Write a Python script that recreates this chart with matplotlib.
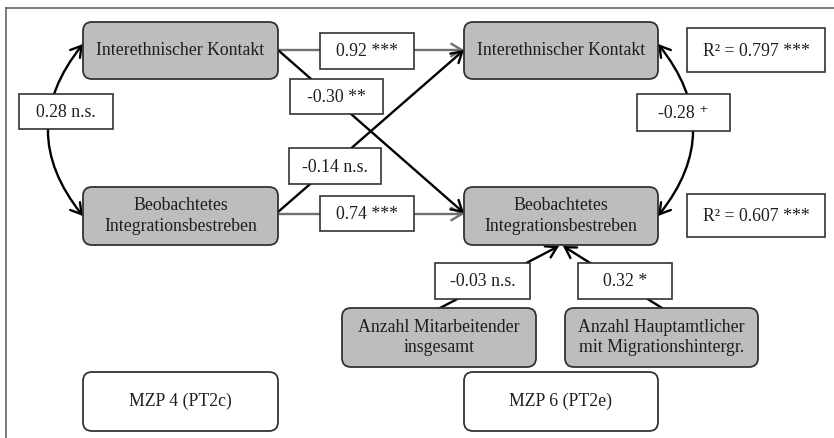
import matplotlib
matplotlib.use("Agg")
import matplotlib.pyplot as plt
from matplotlib.patches import FancyBboxPatch, Rectangle, FancyArrowPatch

plt.rcParams['font.family'] = ['Liberation Serif', 'DejaVu Serif']

# ---- data ----
node_labels = ["Interethnischer Kontakt", "Beobachtetes\nIntegrationsbestreben",
               "Interethnischer Kontakt", "Beobachtetes\nIntegrationsbestreben",
               "Anzahl Mitarbeitender\ninsgesamt", "Anzahl Hauptamtlicher\nmit Migrationshintergr."]
time_labels = ["MZP 4 (PT2c)", "MZP 6 (PT2e)"]
path_labels = ["0.92 ***", "-0.30 **", "-0.14 n.s.", "0.74 ***", "-0.03 n.s.", "0.32 *"]
cov_labels = ["0.28 n.s.", "-0.28 \u207a"]
r2_labels = ["R\u00b2 = 0.797 ***", "R\u00b2 = 0.607 ***"]

W, H = 834, 438
fig = plt.figure(figsize=(W/100, H/100), dpi=100)
ax = fig.add_axes([0, 0, 1, 1])
ax.set_xlim(0, W)
ax.set_ylim(H, 0)
ax.axis('off')

FS = 12.8
TXT = '#1e1e1e'
EDGE = '#333333'

# outer frame (top and left visible)
ax.plot([6, 834], [8, 8], color='#666666', lw=1.2)
ax.plot([6, 6], [8, 438], color='#666666', lw=1.2)

def rbox(x0, y0, x1, y1, text, fill):
    p = FancyBboxPatch((x0, y0), x1 - x0, y1 - y0,
                       boxstyle="round,pad=0,rounding_size=9",
                       fc=fill, ec=EDGE, lw=1.3, zorder=3)
    ax.add_patch(p)
    ax.text((x0 + x1) / 2, (y0 + y1) / 2, text, ha='center', va='center',
            fontsize=FS, color=TXT, zorder=4, linespacing=1.3)

def lbox(x0, y0, x1, y1, text):
    p = Rectangle((x0, y0), x1 - x0, y1 - y0, fc='white', ec=EDGE, lw=1.2, zorder=5)
    ax.add_patch(p)
    ax.text((x0 + x1) / 2, (y0 + y1) / 2 + 1, text, ha='center', va='center',
            fontsize=FS, color=TXT, zorder=6)

def arrow(p0, p1, color='black', rad=0.0, both=False, lw=1.7):
    style = '<->' if both else '->'
    a = FancyArrowPatch(p0, p1, arrowstyle=f'{style},head_length=5,head_width=3',
                        connectionstyle=f'arc3,rad={rad}', color=color, lw=lw,
                        shrinkA=0, shrinkB=0, zorder=2, mutation_scale=1.5,
                        capstyle='round', joinstyle='miter')
    ax.add_patch(a)

GREY = '#bdbdbd'
node_pos = [(83, 22, 278, 79), (83, 187, 278, 245),
            (464, 22, 658, 79), (464, 187, 658, 245),
            (342, 308, 536, 367), (565, 308, 758, 367)]
for (x0, y0, x1, y1), t in zip(node_pos, node_labels):
    rbox(x0, y0, x1, y1, t, GREY)
time_pos = [(83, 372, 278, 431), (464, 372, 658, 431)]
for (x0, y0, x1, y1), t in zip(time_pos, time_labels):
    rbox(x0, y0, x1, y1, t, 'white')

# arrows
arrow((278, 50), (464, 50), color='#707070')
arrow((278, 214), (464, 214), color='#707070')
arrow((278, 50), (464, 213), color='black')
arrow((278, 212), (464, 50), color='black')
arrow((83, 44), (83, 216), color='black', rad=0.4, both=True)
arrow((658, 44), (658, 216), color='black', rad=-0.4, both=True)
arrow((440, 308), (559, 246), color='black')
arrow((662, 308), (563, 246), color='black')

path_pos = [(320, 33, 414, 69), (290, 79, 383, 114), (289, 148, 381, 184),
            (320, 196, 414, 231), (435, 263, 530, 299), (578, 263, 672, 299)]
for (x0, y0, x1, y1), t in zip(path_pos, path_labels):
    lbox(x0, y0, x1, y1, t)
cov_pos = [(19, 94, 113, 129), (637, 94, 730, 131)]
for (x0, y0, x1, y1), t in zip(cov_pos, cov_labels):
    lbox(x0, y0, x1, y1, t)
r2_pos = [(687, 28, 825, 72), (687, 194, 825, 237)]
for (x0, y0, x1, y1), t in zip(r2_pos, r2_labels):
    lbox(x0, y0, x1, y1, t)

fig.savefig('out.png', dpi=100)
